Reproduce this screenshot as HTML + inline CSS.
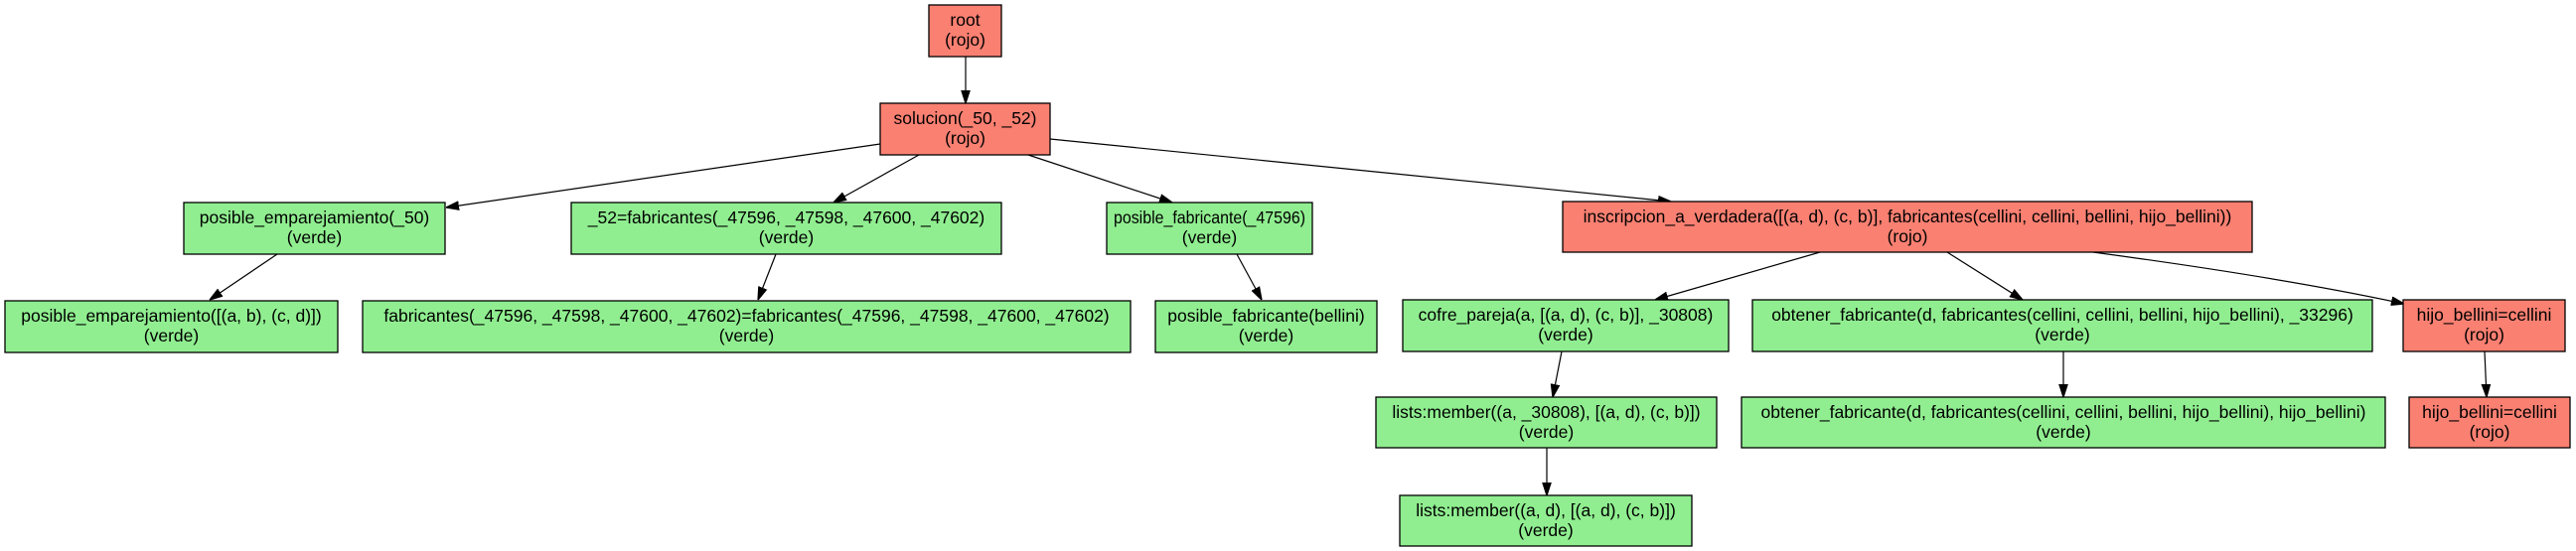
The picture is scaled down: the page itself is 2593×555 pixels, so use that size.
<!DOCTYPE html>
<html><head><meta charset="utf-8"><style>
html,body{margin:0;padding:0;background:#fff;width:2593px;height:555px;overflow:hidden}
text{font-family:"Liberation Sans",Arial,sans-serif;font-size:17.5px;fill:#000;text-anchor:middle}
rect{stroke:#000;stroke-width:1.3}
.r{fill:#fa8072}.g{fill:#90ee90}
line,path{stroke:#000;stroke-width:1.2;fill:none}
</style></head><body>
<svg width="2593" height="555" xmlns="http://www.w3.org/2000/svg">
<defs><marker id="a" viewBox="0 0 10 10" refX="10" refY="5" markerWidth="13" markerHeight="13" markerUnits="userSpaceOnUse" orient="auto"><path d="M0,1.8 L10,5 L0,8.2 z" style="fill:#000;stroke:#000;stroke-width:1"/></marker></defs>

<line x1="972" y1="57" x2="972" y2="104" marker-end="url(#a)"/>
<line x1="886" y1="145" x2="449" y2="209" marker-end="url(#a)"/>
<line x1="925" y1="156" x2="839" y2="204" marker-end="url(#a)"/>
<line x1="1035" y1="156" x2="1180" y2="204" marker-end="url(#a)"/>
<line x1="1057" y1="140" x2="1682" y2="203" marker-end="url(#a)"/>
<line x1="279" y1="256" x2="211" y2="302" marker-end="url(#a)"/>
<line x1="781" y1="256" x2="763" y2="302" marker-end="url(#a)"/>
<line x1="1245" y1="256" x2="1270" y2="302" marker-end="url(#a)"/>
<line x1="1832" y1="254" x2="1666" y2="302" marker-end="url(#a)"/>
<line x1="1960" y1="254" x2="2036" y2="302" marker-end="url(#a)"/>
<path d="M2107,254 Q2300,280 2420,306" marker-end="url(#a)"/>
<line x1="1572" y1="354" x2="1563" y2="400" marker-end="url(#a)"/>
<line x1="2077" y1="354" x2="2077" y2="400" marker-end="url(#a)"/>
<line x1="2501" y1="354" x2="2503" y2="400" marker-end="url(#a)"/>
<line x1="1557" y1="451" x2="1557" y2="499" marker-end="url(#a)"/>

<rect class="r" x="935" y="5" width="73" height="52"/>
<text x="971.5" y="26">root</text><text x="971.5" y="46">(rojo)</text>

<rect class="r" x="886" y="104" width="171" height="52"/>
<text x="971.5" y="125">solucion(_50, _52)</text><text x="971.5" y="145">(rojo)</text>

<rect class="g" x="185" y="204" width="263" height="52"/>
<text x="316.5" y="225">posible_emparejamiento(_50)</text><text x="316.5" y="245">(verde)</text>

<rect class="g" x="575" y="204" width="433" height="52"/>
<text x="791.5" y="225">_52=fabricantes(_47596, _47598, _47600, _47602)</text><text x="791.5" y="245">(verde)</text>

<rect class="g" x="1114" y="204" width="207" height="52"/>
<text x="1217.5" y="225" textLength="193" lengthAdjust="spacingAndGlyphs">posible_fabricante(_47596)</text><text x="1217.5" y="245">(verde)</text>

<rect class="r" x="1573" y="203" width="694" height="51"/>
<text x="1920" y="224">inscripcion_a_verdadera([(a, d), (c, b)], fabricantes(cellini, cellini, bellini, hijo_bellini))</text><text x="1920" y="244">(rojo)</text>

<rect class="g" x="5" y="303" width="335" height="52"/>
<text x="172.5" y="324">posible_emparejamiento([(a, b), (c, d)])</text><text x="172.5" y="344">(verde)</text>

<rect class="g" x="365" y="303" width="773" height="52"/>
<text x="751.5" y="324">fabricantes(_47596, _47598, _47600, _47602)=fabricantes(_47596, _47598, _47600, _47602)</text><text x="751.5" y="344">(verde)</text>

<rect class="g" x="1163" y="303" width="223" height="52"/>
<text x="1274.5" y="324">posible_fabricante(bellini)</text><text x="1274.5" y="344">(verde)</text>

<rect class="g" x="1412" y="302" width="328" height="52"/>
<text x="1576" y="323">cofre_pareja(a, [(a, d), (c, b)], _30808)</text><text x="1576" y="343">(verde)</text>

<rect class="g" x="1764" y="302" width="624" height="52"/>
<text x="2076" y="323">obtener_fabricante(d, fabricantes(cellini, cellini, bellini, hijo_bellini), _33296)</text><text x="2076" y="343">(verde)</text>

<rect class="r" x="2419" y="302" width="163" height="52"/>
<text x="2500.5" y="323">hijo_bellini=cellini</text><text x="2500.5" y="343">(rojo)</text>

<rect class="g" x="1385" y="400" width="343" height="51"/>
<text x="1556.5" y="421">lists:member((a, _30808), [(a, d), (c, b)])</text><text x="1556.5" y="441">(verde)</text>

<rect class="g" x="1753" y="400" width="648" height="51"/>
<text x="2077" y="421">obtener_fabricante(d, fabricantes(cellini, cellini, bellini, hijo_bellini), hijo_bellini)</text><text x="2077" y="441">(verde)</text>

<rect class="r" x="2425" y="400" width="162" height="51"/>
<text x="2506" y="421">hijo_bellini=cellini</text><text x="2506" y="441">(rojo)</text>

<rect class="g" x="1409" y="499" width="294" height="51"/>
<text x="1556" y="520">lists:member((a, d), [(a, d), (c, b)])</text><text x="1556" y="540">(verde)</text>
</svg>
</body></html>
